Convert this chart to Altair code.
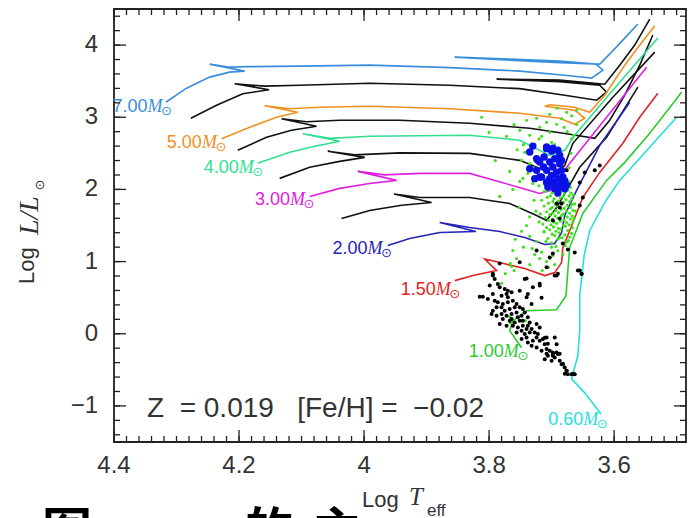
import altair as alt
import pandas as pd

# ---------------- axis ranges / ticks ----------------
X_DOMAIN = [4.4, 3.485]
Y_DOMAIN = [-1.5, 4.5]
X_TICKS = [4.4, 4.2, 4.0, 3.8, 3.6]
X_TICK_LABELS = ["4.4", "4.2", "4", "3.8", "3.6"]
Y_TICKS = [-1, 0, 1, 2, 3, 4]
Y_TICK_LABELS = ["\u22121", "0", "1", "2", "3", "4"]
X_MINOR = [round(4.4 - 0.02 * k, 2) for k in range(46)]
Y_MINOR = [round(-1.4 + 0.2 * k, 1) for k in range(30)]

# ---------------- evolutionary tracks (log Teff, log L) ----------------
m700_T = [4.317, 4.284, 4.247, 4.215, 4.191, 4.247, 4.215, 4.183, 4.103, 3.991, 3.863, 3.751, 3.679, 3.636, 3.618, 3.629, 3.687, 3.767, 3.855, 3.767, 3.687, 3.623, 3.604, 3.583, 3.562]
m700_L = [3.208, 3.403, 3.556, 3.625, 3.639, 3.736, 3.694, 3.701, 3.708, 3.722, 3.687, 3.639, 3.583, 3.542, 3.653, 3.736, 3.778, 3.806, 3.833, 3.792, 3.757, 3.736, 3.903, 4.097, 4.292]

m600_T = [4.277, 4.236, 4.194, 4.152, 4.207, 4.159, 4.103, 3.991, 3.863, 3.751, 3.679, 3.628, 3.612, 3.623, 3.687, 3.788, 3.687, 3.615, 3.591, 3.567, 3.543]
m600_L = [2.986, 3.167, 3.326, 3.382, 3.465, 3.431, 3.444, 3.472, 3.444, 3.396, 3.306, 3.236, 3.347, 3.444, 3.493, 3.528, 3.514, 3.458, 3.722, 4.000, 4.361]

m500_T = [4.228, 4.183, 4.140, 4.106, 4.159, 4.119, 4.071, 3.991, 3.863, 3.751, 3.687, 3.663, 3.647, 3.663, 3.711, 3.703, 3.663, 3.639, 3.615, 3.583, 3.559, 3.535]
m500_L = [2.701, 2.861, 3.000, 3.069, 3.160, 3.118, 3.139, 3.153, 3.118, 3.056, 2.986, 2.903, 2.986, 3.097, 3.153, 3.174, 3.139, 3.069, 3.306, 3.722, 4.000, 4.264]

m450_T = [4.202, 4.156, 4.116, 4.076, 4.132, 4.092, 4.039, 3.943, 3.831, 3.735, 3.671, 3.631, 3.607, 3.583, 3.559, 3.538]
m450_L = [2.542, 2.722, 2.819, 2.875, 2.979, 2.937, 2.958, 2.958, 2.917, 2.847, 2.764, 2.708, 2.958, 3.306, 3.722, 4.139]

m400_T = [4.170, 4.119, 4.079, 4.039, 4.098, 4.055, 3.991, 3.831, 3.751, 3.703, 3.679, 3.663, 3.602, 3.530]
m400_L = [2.361, 2.514, 2.597, 2.667, 2.771, 2.708, 2.736, 2.750, 2.681, 2.472, 2.542, 2.750, 3.375, 4.097]

m350_T = [4.135, 4.087, 4.039, 3.999, 4.058, 4.015, 3.943, 3.831, 3.751, 3.711, 3.695, 3.679, 3.666, 3.602, 3.535]
m350_L = [2.153, 2.306, 2.389, 2.444, 2.528, 2.479, 2.507, 2.500, 2.403, 2.264, 2.194, 2.333, 2.639, 3.278, 3.903]

m300_T = [4.087, 4.039, 3.991, 3.948, 4.010, 3.967, 3.911, 3.831, 3.746, 3.719, 3.700, 3.676, 3.612, 3.548]
m300_L = [1.903, 2.014, 2.083, 2.125, 2.250, 2.201, 2.222, 2.222, 2.014, 1.944, 1.986, 2.306, 3.000, 3.694]

m250_T = [4.036, 3.991, 3.940, 3.892, 3.952, 3.911, 3.831, 3.767, 3.724, 3.708, 3.692, 3.676, 3.655, 3.612, 3.562]
m250_L = [1.597, 1.708, 1.780, 1.819, 1.937, 1.889, 1.889, 1.806, 1.639, 1.569, 1.750, 1.986, 2.306, 2.722, 3.417]

m200_T = [3.962, 3.927, 3.879, 3.821, 3.879, 3.831, 3.783, 3.743, 3.711, 3.695, 3.684, 3.679, 3.660, 3.623, 3.575]
m200_L = [1.222, 1.319, 1.403, 1.417, 1.542, 1.472, 1.417, 1.333, 1.236, 1.250, 1.400, 1.639, 1.986, 2.611, 3.208]

m150_T = [3.855, 3.826, 3.788, 3.807, 3.783, 3.743, 3.711, 3.695, 3.684, 3.682, 3.671, 3.650, 3.623, 3.586, 3.559, 3.530]
m150_L = [0.736, 0.806, 0.875, 1.035, 0.986, 0.903, 0.806, 0.847, 0.986, 1.194, 1.431, 1.889, 2.236, 2.639, 3.000, 3.333]

m100_T = [3.748, 3.767, 3.762, 3.740, 3.692, 3.677, 3.674, 3.671, 3.650, 3.612, 3.583, 3.543, 3.492]
m100_L = [-0.194, 0.042, 0.181, 0.319, 0.333, 0.528, 0.875, 1.194, 1.667, 2.125, 2.375, 2.778, 3.347]

m060_T = [3.621, 3.647, 3.668, 3.658, 3.655, 3.655, 3.648, 3.639, 3.613, 3.591, 3.559, 3.500]
m060_L = [-1.111, -0.819, -0.625, -0.306, 0.042, 0.528, 1.083, 1.431, 1.847, 2.125, 2.431, 3.000]

TRACKS = [
    ("7.00", "#3a8fdc", m700_T, m700_L),
    ("6.00", "#111111", m600_T, m600_L),
    ("5.00", "#f0901e", m500_T, m500_L),
    ("4.50", "#111111", m450_T, m450_L),
    ("4.00", "#30e090", m400_T, m400_L),
    ("3.50", "#111111", m350_T, m350_L),
    ("3.00", "#e020e0", m300_T, m300_L),
    ("2.50", "#111111", m250_T, m250_L),
    ("2.00", "#2323b8", m200_T, m200_L),
    ("1.50", "#e02424", m150_T, m150_L),
    ("1.00", "#2ccc2c", m100_T, m100_L),
    ("0.60", "#26dede", m060_T, m060_L),
]

# ---------------- track labels ----------------
LABEL_MASS = ["7.00", "5.00", "4.00", "3.00", "2.00", "1.50", "1.00", "0.60"]
LABEL_T = [4.316, 4.229, 4.170, 4.088, 3.964, 3.855, 3.746, 3.619]
LABEL_L = [3.083, 2.583, 2.236, 1.792, 1.125, 0.556, -0.306, -1.254]
LABEL_COL = ["#3a8fdc", "#f0901e", "#30e090", "#e020e0", "#2323b8", "#e02424", "#2ccc2c", "#26dede"]

# ---------------- observed stars ----------------
black_T = [3.794, 3.791, 3.799, 3.786, 3.783, 3.775, 3.770, 3.764, 3.772, 3.780, 3.794, 3.810, 3.802, 3.791, 3.786,
           3.778, 3.770, 3.762, 3.756, 3.751, 3.746, 3.759, 3.767, 3.775, 3.794, 3.796, 3.788, 3.780, 3.772, 3.764,
           3.756, 3.748, 3.743, 3.738, 3.751, 3.759, 3.767, 3.778, 3.783, 3.772, 3.762, 3.754, 3.746, 3.738, 3.732,
           3.748, 3.756, 3.743, 3.735, 3.727, 3.722, 3.740, 3.748, 3.738, 3.730, 3.719, 3.714, 3.732, 3.724, 3.711,
           3.708, 3.716, 3.703, 3.698, 3.692, 3.706, 3.711, 3.700, 3.695, 3.690, 3.687, 3.682, 3.679, 3.676, 3.674,
           3.668, 3.663, 3.692, 3.695, 3.708, 3.719, 3.724, 3.735, 3.738, 3.719, 3.730, 3.743, 3.740, 3.732, 3.815,
           3.695, 3.708, 3.751, 3.655, 3.652, 3.764, 3.754, 3.746, 3.770, 3.780, 3.788, 3.740, 3.724, 3.698, 3.684,
           3.676, 3.647, 3.631, 3.623, 3.655, 3.650, 3.655, 3.692, 3.687, 3.698, 3.687, 3.724, 3.698, 3.674, 3.663,
           3.684, 3.658, 3.652, 3.690, 3.783, 3.794, 3.719, 3.692, 3.740, 3.751, 3.682, 3.703, 3.716, 3.711, 3.706,
           3.708, 3.698, 3.687, 3.682, 3.676, 3.666, 3.679]
black_L = [0.806, 0.759, 0.667, 0.690, 0.644, 0.620, 0.597, 0.574, 0.551, 0.528, 0.551, 0.514, 0.482, 0.458, 0.435,
           0.412, 0.435, 0.458, 0.412, 0.366, 0.343, 0.366, 0.343, 0.319, 0.319, 0.273, 0.250, 0.273, 0.250, 0.273,
           0.296, 0.250, 0.296, 0.227, 0.181, 0.157, 0.181, 0.204, 0.134, 0.111, 0.111, 0.088, 0.111, 0.111, 0.065,
           0.042, 0.019, -0.005, 0.019, 0.019, -0.005, -0.051, -0.074, -0.120, -0.097, -0.097, -0.074, -0.167, -0.190, -0.144,
           -0.213, -0.236, -0.236, -0.259, -0.259, -0.306, -0.352, -0.375, -0.329, -0.282, -0.375, -0.421, -0.468, -0.514, -0.560,
           -0.560, -0.560, -0.144, -0.051, -0.051, 0.088, 0.134, 0.157, 0.551, 0.667, 0.644, 0.759, 0.505, 0.412, 0.514,
           0.806, 0.921, 0.991, 0.875, 0.829, 0.204, 0.227, 0.181, 0.505, 0.366, 0.366, 0.065, -0.051, -0.306, -0.421,
           2.264, 2.236, 2.264, 2.333, 2.097, 1.889, 1.778, 1.806, 1.750, 1.569, 1.597, 1.153, 1.111, 1.167, 1.125,
           1.806, 0.875, 0.833, 0.833, 0.972, 0.833, 0.694, 0.806, 0.764, 0.597, 1.250, 1.056, 0.500, -0.056, -0.139,
           -0.278, -0.278, -0.278, -0.417, -0.514, -0.556, -0.556]

green_T = [3.691, 3.676, 3.703, 3.724, 3.740, 3.708, 3.692, 3.719, 3.751, 3.772, 3.735, 3.716, 3.703, 3.730, 3.743,
           3.748, 3.767, 3.746, 3.751, 3.783, 3.762, 3.730, 3.660, 3.668, 3.684, 3.700, 3.720, 3.755, 3.790, 3.800,
           3.812, 3.760, 3.680, 3.665, 3.727, 3.712, 3.735, 3.722, 3.728, 3.745, 3.706, 3.695, 3.738, 3.716, 3.725,
           3.724, 3.762, 3.756, 3.727, 3.719, 3.708, 3.735, 3.695, 3.766, 3.764, 3.760, 3.774, 3.715, 3.703, 3.698,
           3.767, 3.766, 3.742, 3.780, 3.745, 3.735, 3.740, 3.735, 3.752, 3.728, 3.725, 3.720, 3.712, 3.709, 3.700,
           3.690, 3.682, 3.678, 3.731, 3.716, 3.705, 3.758, 3.748,
           3.676, 3.690, 3.700, 3.671, 3.683, 3.695, 3.706, 3.668, 3.679, 3.688, 3.699, 3.712, 3.674, 3.685, 3.693,
           3.703, 3.667, 3.678, 3.689, 3.697, 3.708, 3.672, 3.681, 3.692, 3.701, 3.714, 3.666, 3.676, 3.686, 3.696,
           3.705, 3.670, 3.680, 3.690, 3.699, 3.710, 3.667, 3.675, 3.684, 3.694, 3.703, 3.671, 3.681, 3.689, 3.698,
           3.708, 3.718, 3.666, 3.676, 3.685, 3.693, 3.702, 3.670, 3.680, 3.690, 3.699, 3.712, 3.667, 3.675, 3.684,
           3.694, 3.705, 3.671, 3.681, 3.689, 3.698, 3.716, 3.668, 3.677, 3.686, 3.696, 3.707, 3.672, 3.682, 3.692,
           3.702, 3.669, 3.679, 3.688, 3.699, 3.712, 3.674, 3.684, 3.694, 3.706, 3.670, 3.680, 3.690, 3.703, 3.720,
           3.676, 3.686, 3.698, 3.711, 3.672, 3.683, 3.695, 3.708, 3.673, 3.681, 3.693, 3.687, 3.664, 3.663, 3.665,
           3.662, 3.668, 3.675, 3.660, 3.672, 3.669]
green_L = [3.125, 3.069, 3.042, 2.986, 2.958, 2.931, 2.903, 2.861, 2.819, 2.736, 2.750, 2.736, 2.792, 2.583, 2.514,
           2.403, 2.250, 2.153, 2.111, 1.903, 2.000, 2.083, 3.097, 3.020, 2.980, 2.650, 2.700, 2.550, 2.400, 2.790,
           3.000, 2.900, 2.860, 2.750, 2.620, 2.480, 2.360, 2.440, 2.300, 2.620, 2.560, 2.620, 2.220, 2.200, 2.130,
           1.278, 1.153, 1.042, 1.097, 1.042, 1.000, 0.958, 0.958, 0.972, 0.931, 0.875, 0.833, 0.875, 1.050, 1.083,
           0.236, 0.153, 0.181, 0.700, 1.200, 1.350, 1.500, 1.620, 1.750, 1.850, 1.700, 1.550, 1.420, 1.280, 1.200,
           1.150, 1.100, 1.220, 1.180, 1.130, 0.920, 1.310, 1.420,
           1.27, 1.31, 1.26, 1.34, 1.33, 1.36, 1.32, 1.39, 1.37, 1.40, 1.38, 1.41, 1.43, 1.45, 1.42,
           1.44, 1.47, 1.49, 1.46, 1.48, 1.47, 1.51, 1.50, 1.53, 1.51, 1.52, 1.55, 1.54, 1.56, 1.55,
           1.57, 1.59, 1.58, 1.60, 1.59, 1.61, 1.63, 1.62, 1.64, 1.63, 1.65, 1.67, 1.66, 1.68, 1.67,
           1.69, 1.66, 1.71, 1.70, 1.72, 1.71, 1.73, 1.75, 1.74, 1.76, 1.75, 1.77, 1.79, 1.78, 1.80,
           1.79, 1.81, 1.83, 1.82, 1.84, 1.83, 1.85, 1.87, 1.86, 1.88, 1.87, 1.89, 1.91, 1.90, 1.92,
           1.91, 1.95, 1.94, 1.96, 1.95, 1.97, 1.99, 1.98, 2.00, 1.99, 2.03, 2.02, 2.04, 2.03, 2.05,
           2.07, 2.06, 2.08, 2.07, 2.11, 2.10, 2.12, 2.11, 1.29, 1.24, 1.21, 1.33, 1.60, 1.80, 1.92,
           1.70, 2.70, 2.80, 2.90, 2.30, 2.50]

blue_T = [3.735, 3.724, 3.708, 3.700, 3.690, 3.687, 3.719, 3.724, 3.735, 3.727, 3.713, 3.703, 3.695, 3.708, 3.698,
          3.687, 3.692, 3.684, 3.700, 3.690, 3.682, 3.698, 3.687, 3.695, 3.682, 3.679, 3.706, 3.716, 3.708, 3.698,
          3.722, 3.719, 3.708, 3.687, 3.695, 3.684, 3.690, 3.679, 3.676, 3.703, 3.712, 3.730]
blue_L = [2.518, 2.426, 2.565, 2.532, 2.542, 2.472, 2.380, 2.264, 2.287, 2.149, 2.310, 2.380, 2.426, 2.264, 2.310,
          2.357, 2.240, 2.264, 2.194, 2.149, 2.171, 2.101, 2.056, 2.010, 2.079, 2.010, 2.032, 2.171, 2.588, 2.570,
          2.403, 2.171, 2.101, 2.032, 2.056, 2.400, 1.950, 2.120, 2.060, 2.150, 2.450, 2.600]

# ---------------- build tables ----------------
rows = []
for name, col, T, L in TRACKS:
    for i, (t, l) in enumerate(zip(T, L)):
        rows.append({"track": name, "i": i, "T": t, "L": l})
tracks_df = pd.DataFrame(rows)
track_names = [t[0] for t in TRACKS]
track_cols = [t[1] for t in TRACKS]

labels_df = pd.DataFrame({"mass": LABEL_MASS, "T": LABEL_T, "L": LABEL_L, "col": LABEL_COL})
black_df = pd.DataFrame({"T": black_T, "L": black_L})
green_df = pd.DataFrame({"T": green_T, "L": green_L})
blue_df = pd.DataFrame({"T": blue_T, "L": blue_L})

W, H = 572, 433
xs = alt.Scale(domain=X_DOMAIN, nice=False, zero=False)
ys = alt.Scale(domain=Y_DOMAIN, nice=False, zero=False)
XN = alt.X("T:Q", scale=xs, axis=None)
YN = alt.Y("L:Q", scale=ys, axis=None)

lines = alt.Chart(tracks_df).mark_line(strokeWidth=1.6, clip=True).encode(
    x=XN, y=YN,
    color=alt.Color("track:N", scale=alt.Scale(domain=track_names, range=track_cols), legend=None),
    order="i:Q",
)

green = alt.Chart(green_df).mark_circle(size=10, color="#3fe01e", opacity=1).encode(x=XN, y=YN)
black = alt.Chart(black_df).mark_circle(size=16, color="#000000", opacity=1).encode(x=XN, y=YN)
blue = alt.Chart(blue_df).mark_circle(size=55, color="#0a10e8", opacity=1).encode(x=XN, y=YN)

lab_num = alt.Chart(labels_df).mark_text(align="right", baseline="alphabetic", dx=-19, dy=1,
                                         font="Liberation Sans", fontSize=18).encode(
    x=XN, y=YN, text="mass:N", color=alt.Color("col:N", scale=None))
lab_m = alt.Chart(labels_df).mark_text(align="right", baseline="alphabetic", dx=-4, dy=1, text="M",
                                       font="Liberation Serif", fontStyle="italic", fontSize=18).encode(
    x=XN, y=YN, color=alt.Color("col:N", scale=None))
lab_sun = alt.Chart(labels_df).mark_text(align="center", baseline="middle", text="\u2299",
                                         font="DejaVu Sans", fontSize=13).encode(
    x=XN, y=YN, color=alt.Color("col:N", scale=None))

# ---------------- tick labels (through the scales) ----------------
xlab = alt.Chart(pd.DataFrame({"v": X_TICKS, "s": X_TICK_LABELS})).mark_text(
    align="center", baseline="top", font="Liberation Sans", fontSize=24, color="#333").encode(
    x=alt.X("v:Q", scale=xs, axis=None), y=alt.value(H + 12), text="s:N")
ylab = alt.Chart(pd.DataFrame({"v": Y_TICKS, "s": Y_TICK_LABELS})).mark_text(
    align="right", baseline="middle", font="Liberation Sans", fontSize=24, color="#333").encode(
    y=alt.Y("v:Q", scale=ys, axis=None), x=alt.value(-16), text="s:N")

# ---------------- inward ticks on all four sides ----------------
def xticks(vals, y0, y1):
    return alt.Chart(pd.DataFrame({"v": vals})).mark_rule(color="#222", strokeWidth=1.3).encode(
        x=alt.X("v:Q", scale=xs, axis=None), y=alt.value(y0), y2=alt.value(y1))

def yticks(vals, x0, x1):
    return alt.Chart(pd.DataFrame({"v": vals})).mark_rule(color="#222", strokeWidth=1.3).encode(
        y=alt.Y("v:Q", scale=ys, axis=None), x=alt.value(x0), x2=alt.value(x1))

tick_layers = [
    xticks(X_TICKS, H, H - 12), xticks(X_MINOR, H, H - 6),
    xticks(X_TICKS, 0, 12), xticks(X_MINOR, 0, 6),
    yticks(Y_TICKS, 0, 12), yticks(Y_MINOR, 0, 6),
    yticks(Y_TICKS, W, W - 12), yticks(Y_MINOR, W, W - 6),
]

one = pd.DataFrame({"a": [0]})

def txt(s, x, y, **kw):
    return alt.Chart(one).mark_text(text=s, **kw).encode(x=alt.value(x), y=alt.value(y))

annot = [
    txt("Z\u00a0\u00a0=\u00a00.019\u00a0\u00a0\u00a0[Fe/H]\u00a0=\u00a0\u00a0\u22120.02", 33, 408,
        align="left", baseline="alphabetic", font="Liberation Sans", fontSize=28, color="#333"),
    # x title
    txt("Log", 248, 498, align="left", baseline="alphabetic", font="Liberation Sans", fontSize=22, color="#333"),
    txt("T", 295, 496, align="left", baseline="alphabetic", font="Liberation Serif", fontStyle="italic",
        fontSize=25, color="#333"),
    txt("eff", 313, 507, align="left", baseline="alphabetic", font="Liberation Sans", fontSize=17, color="#333"),
    # y title (rotated)
    txt("Log", -80, 275, align="left", baseline="alphabetic", angle=270, font="Liberation Sans",
        fontSize=22, color="#333"),
    txt("L/L", -76, 226, align="left", baseline="alphabetic", angle=270, font="Liberation Serif",
        fontStyle="italic", fontSize=28, color="#333"),
    txt("\u2299", -74, 176, align="center", baseline="middle", angle=270, font="DejaVu Sans",
        fontSize=13, color="#333"),
    # caption fragment cut off at bottom of the image
    txt("\u56fe", -72, 500, align="left", baseline="top", font="Noto Sans CJK SC", fontWeight="bold",
        fontSize=50, color="#000"),
    txt("\u7684", 130, 500, align="left", baseline="top", font="Noto Sans CJK SC", fontWeight="bold",
        fontSize=50, color="#000"),
    txt("\u4e3b", 198, 500, align="left", baseline="top", font="Noto Sans CJK SC", fontWeight="bold",
        fontSize=50, color="#000"),
]

chart = alt.layer(
    lines, green, black, blue, lab_num, lab_m, lab_sun, xlab, ylab, *tick_layers, *annot
).properties(
    width=W, height=H,
    padding={"left": 114, "top": 9, "right": 6, "bottom": 76},
    autosize=alt.AutoSizeParams(type="none"),
    background="white",
).configure_view(stroke="#222", strokeWidth=1.8)

chart.save("out.html", embed_options={"renderer": "svg", "actions": False})
